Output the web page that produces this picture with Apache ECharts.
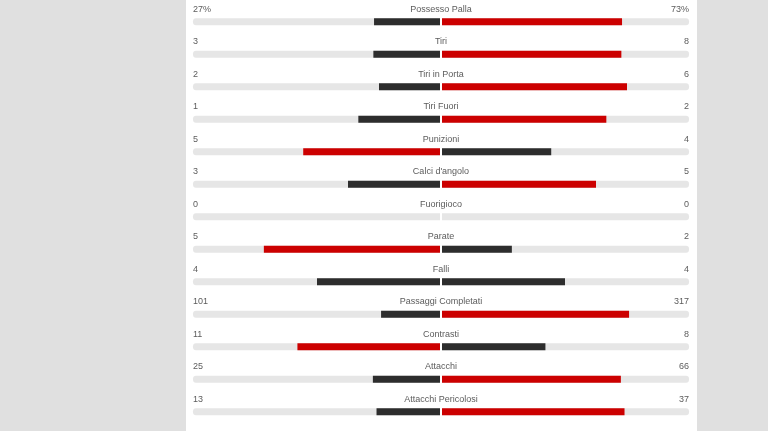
<!DOCTYPE html>
<html>
<head>
<meta charset="utf-8">
<script src="https://cdn.jsdelivr.net/npm/echarts@6/dist/echarts.min.js"></script>
<style>
  html, body { margin: 0; padding: 0; background: #e0e0e0; }
  #chart { width: 768px; height: 431px; }
</style>
</head>
<body>
<div id="chart"></div>
<script>
// statistiche partita
const labels = ['Possesso Palla', 'Tiri', 'Tiri in Porta', 'Tiri Fuori', 'Punizioni', "Calci d'angolo",
  'Fuorigioco', 'Parate', 'Falli', 'Passaggi Completati', 'Contrasti', 'Attacchi', 'Attacchi Pericolosi']
const homeValues = [27, 3, 2, 1, 5, 3, 0, 5, 4, 101, 11, 25, 13]
const awayValues = [73, 8, 6, 2, 4, 5, 0, 2, 4, 317, 8, 66, 37]
const unit = ['%', '', '', '', '', '', '', '', '', '', '', '', '']

const RED = '#cc0000'
const DARK = '#2d2d2d'
const TRACK = '#e6e6e6'
const TEXT = '#5c5c5c'

const chart = echarts.init(document.getElementById('chart'))

function renderRow(params, api) {
  const i = api.value(0)
  const h = homeValues[i]
  const a = awayValues[i]
  const tot = h + a
  const hf = tot ? h / tot : 0
  const af = tot ? a / tot : 0
  const c = api.coord([0, i])
  const xl = api.coord([-1, i])[0]
  const xr = api.coord([1, i])[0]
  const xc = c[0]
  const yText = c[1] - 7
  const yBar = c[1] + 2
  const bh = 7
  const hColor = h > a ? RED : DARK
  const aColor = a > h ? RED : DARK
  const hx = api.coord([-hf, i])[0]
  const ax = api.coord([af, i])[0]
  const font = '9px "Liberation Sans", Arial, sans-serif'
  const children = [
    { type: 'rect', shape: { x: xl, y: yBar, width: xc - 1 - xl, height: bh, r: [3, 0, 0, 3] }, style: { fill: TRACK } },
    { type: 'rect', shape: { x: xc + 1, y: yBar, width: xr - xc - 1, height: bh, r: [0, 3, 3, 0] }, style: { fill: TRACK } },
    { type: 'text', x: xl, y: yText, style: { text: h + unit[i], fill: TEXT, font: font, align: 'left', verticalAlign: 'middle' } },
    { type: 'text', x: xc, y: yText, style: { text: labels[i], fill: TEXT, font: font, align: 'center', verticalAlign: 'middle' } },
    { type: 'text', x: xr, y: yText, style: { text: a + unit[i], fill: TEXT, font: font, align: 'right', verticalAlign: 'middle' } },
  ]
  if (hf > 0) {
    children.push({ type: 'rect', shape: { x: hx, y: yBar, width: xc - 1 - hx, height: bh }, style: { fill: hColor } })
  }
  if (af > 0) {
    children.push({ type: 'rect', shape: { x: xc + 1, y: yBar, width: ax - xc - 1, height: bh }, style: { fill: aColor } })
  }
  return { type: 'group', children: children }
}

chart.setOption({
  animation: false,
  graphic: [
    { type: 'rect', z: -10, shape: { x: 186, y: 0, width: 511, height: 431 }, style: { fill: '#ffffff' } },
  ],
  grid: { left: 193, right: 79, top: -1, bottom: 8.5 },
  xAxis: { type: 'value', min: -1, max: 1, show: false },
  yAxis: { type: 'category', data: labels, inverse: true, show: false },
  series: [
    {
      type: 'custom',
      renderItem: renderRow,
      data: labels.map((l, i) => [i]),
      encode: { y: 0 },
    },
  ],
})
</script>
</body>
</html>
